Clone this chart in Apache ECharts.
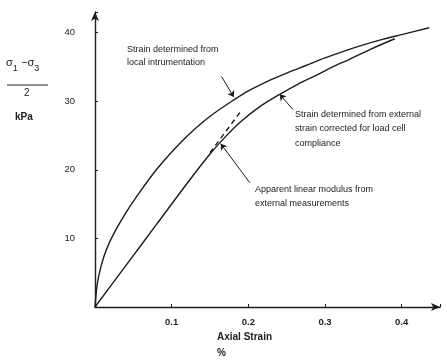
<!DOCTYPE html>
<html>
<head>
<meta charset="utf-8">
<script src="https://cdn.jsdelivr.net/npm/echarts@6/dist/echarts.min.js"></script>
<style>html,body{margin:0;padding:0;background:#fff;}#c{width:447px;height:361px;}</style>
</head>
<body>
<div id="c"></div>
<script>
// Data
const localStrainX = [0, 0.003, 0.008, 0.015, 0.025, 0.04, 0.06, 0.08, 0.1, 0.12, 0.14, 0.16, 0.18, 0.2, 0.225, 0.25, 0.275, 0.3, 0.325, 0.35, 0.375, 0.4, 0.436];
const localStrainY = [0, 3.4, 6.0, 8.4, 10.8, 13.7, 17.0, 20.0, 22.6, 24.9, 26.9, 28.6, 30.1, 31.5, 32.9, 34.1, 35.2, 36.3, 37.3, 38.2, 39.0, 39.7, 40.7];
const externalStrainX = [0, 0.04, 0.08, 0.12, 0.15, 0.17, 0.19, 0.215, 0.241, 0.265, 0.289, 0.31, 0.332, 0.36, 0.391];
const externalStrainY = [0, 6.0, 12.0, 18.0, 22.3, 24.8, 27.0, 29.2, 31.0, 32.5, 33.8, 35.0, 36.1, 37.6, 39.1];
const linearModulusX = [0.15, 0.192];
const linearModulusY = [22.5, 28.8];
const xTickLabels = ['0.1', '0.2', '0.3', '0.4'];
const yTickLabels = ['10', '20', '30', '40'];
// annotation arrows [fromX, fromY, toX, toY]
const arrowLocal = [0.165, 33.6, 0.181, 30.6];
const arrowExternal = [0.258, 28.8, 0.241, 31.0];
const arrowLinear = [0.202, 18.1, 0.164, 23.8];

const zip = (xs, ys) => xs.map((x, i) => [x, ys[i]]);
const ink = '#1c1c1c';
const font = 'Liberation Sans, Arial, sans-serif';
const arrowLine = a => ({
  data: [[{coord: [a[0], a[1]]}, {coord: [a[2], a[3]]}]]
});
const pickLabel = (v, step, labels) => {
  const k = v / step;
  const i = Math.round(k) - 1;
  if (Math.abs(k - Math.round(k)) > 1e-6) return '';
  return i >= 0 && i < labels.length ? labels[i] : '';
};

const chart = echarts.init(document.getElementById('c'), null, {renderer: 'canvas'});
chart.setOption({
  animation: false,
  backgroundColor: '#ffffff',
  grid: {left: 95, right: 7, top: 12, bottom: 54},
  xAxis: {
    type: 'value', min: 0, max: 0.45, interval: 0.1,
    axisLine: {lineStyle: {color: ink, width: 1.4}, symbol: ['none', 'arrow'], symbolSize: [6, 9]},
    axisTick: {inside: true, length: 3, lineStyle: {color: ink}},
    splitLine: {show: false},
    axisLabel: {
      margin: 10, fontSize: 9.5, color: '#222', fontFamily: font, fontWeight: 'bold',
      formatter: v => pickLabel(v, 0.1, xTickLabels)
    }
  },
  yAxis: {
    type: 'value', min: 0, max: 43, interval: 10,
    axisLine: {lineStyle: {color: ink, width: 1.4}, symbol: ['none', 'arrow'], symbolSize: [6, 9]},
    axisTick: {inside: true, length: 3, lineStyle: {color: ink}},
    splitLine: {show: false},
    axisLabel: {
      margin: 20, fontSize: 9.5, color: '#222', fontFamily: font,
      formatter: v => pickLabel(v, 10, yTickLabels)
    }
  },
  series: [
    {
      type: 'line', name: 'local', data: zip(localStrainX, localStrainY),
      smooth: 0.3, showSymbol: false, lineStyle: {color: ink, width: 1.4},
      markLine: Object.assign({silent: true, symbol: ['none', 'arrow'], symbolSize: 6,
        lineStyle: {color: ink, width: 1, type: 'solid'}, label: {show: false}}, arrowLine(arrowLocal))
    },
    {
      type: 'line', name: 'external', data: zip(externalStrainX, externalStrainY),
      smooth: 0.3, showSymbol: false, lineStyle: {color: ink, width: 1.4},
      markLine: Object.assign({silent: true, symbol: ['none', 'arrow'], symbolSize: 6,
        lineStyle: {color: ink, width: 1, type: 'solid'}, label: {show: false}}, arrowLine(arrowExternal))
    },
    {
      type: 'line', name: 'linear', data: zip(linearModulusX, linearModulusY),
      showSymbol: false, lineStyle: {color: ink, width: 1.4, type: [5, 4]},
      markLine: Object.assign({silent: true, symbol: ['none', 'arrow'], symbolSize: 6,
        lineStyle: {color: ink, width: 1, type: 'solid'}, label: {show: false}}, arrowLine(arrowLinear))
    }
  ],
  graphic: [
    {type: 'text', left: 127, top: 43, style: {text: 'Strain determined from\nlocal intrumentation', font: '9px ' + font, fill: '#222', lineHeight: 13}},
    {type: 'text', left: 295, top: 107, style: {text: 'Strain determined from external\nstrain corrected for load cell\ncompliance', font: '9px ' + font, fill: '#222', lineHeight: 14.5}},
    {type: 'text', left: 255, top: 182, style: {text: 'Apparent linear modulus from\nexternal measurements', font: '9px ' + font, fill: '#222', lineHeight: 14.5}},
    {type: 'text', left: 6, top: 57, style: {
      text: '{s|σ}{sub|1} {s|−σ}{sub|3}', fill: '#222',
      rich: {s: {fontSize: 11, fontFamily: font, fill: '#222'}, sub: {fontSize: 9, fontFamily: font, fill: '#222', padding: [12, 0, 0, 0]}}
    }},
    {type: 'line', shape: {x1: 7, y1: 85, x2: 48, y2: 85}, style: {stroke: '#222', lineWidth: 1}},
    {type: 'text', left: 24, top: 88, style: {text: '2', font: '10px ' + font, fill: '#222'}},
    {type: 'text', left: 15, top: 112, style: {text: 'kPa', font: 'bold 10px ' + font, fill: '#222'}},
    {type: 'text', left: 217, top: 332, style: {text: 'Axial Strain', font: 'bold 10px ' + font, fill: '#222'}},
    {type: 'text', left: 217, top: 348, style: {text: '%', font: 'bold 10px ' + font, fill: '#222'}}
  ]
});
</script>
</body>
</html>
